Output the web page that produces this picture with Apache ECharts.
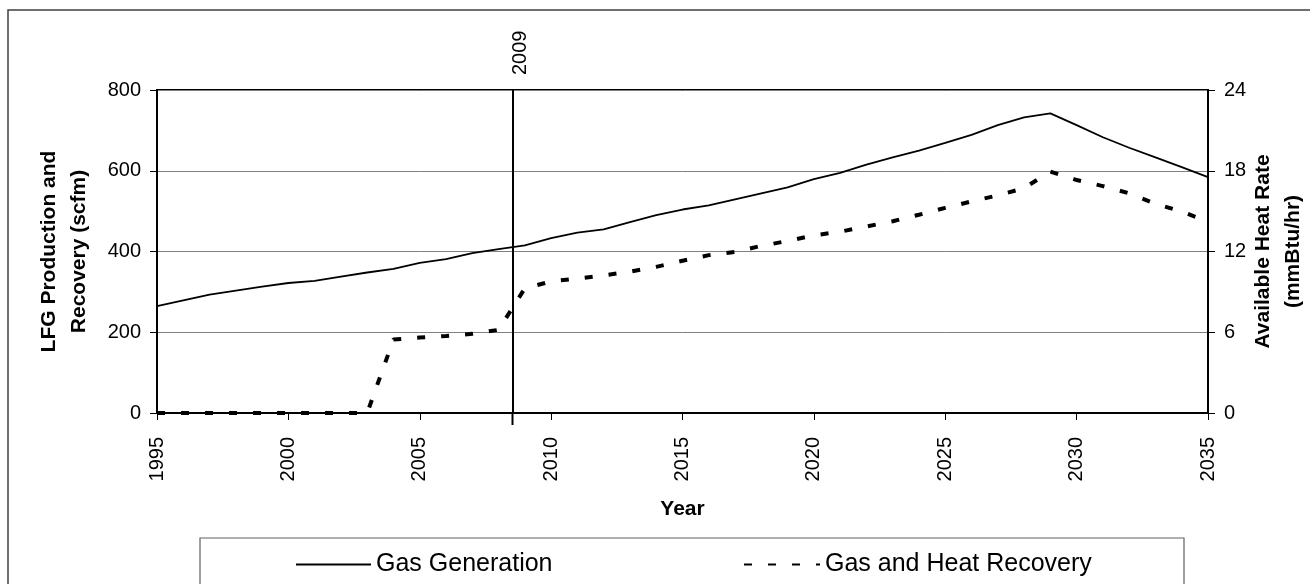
<!DOCTYPE html>
<html>
<head>
<meta charset="utf-8">
<script src="https://cdn.jsdelivr.net/npm/echarts@6/dist/echarts.min.js"></script>
<style>
  html, body { margin: 0; padding: 0; background: #fff; }
  #vis { width: 1310px; height: 584px; }
</style>
</head>
<body>
<div id="vis"></div>
<script>
// years on the x axis
const years = [
  1995, 1996, 1997, 1998, 1999, 2000, 2001, 2002, 2003, 2004,
  2005, 2006, 2007, 2008, 2009, 2010, 2011, 2012, 2013, 2014,
  2015, 2016, 2017, 2018, 2019, 2020, 2021, 2022, 2023, 2024,
  2025, 2026, 2027, 2028, 2029, 2030, 2031, 2032, 2033, 2034, 2035
]

// LFG production (scfm)
const gasGeneration = [
  265, 279, 293, 303, 313, 322, 327, 338, 348, 357,
  372, 381, 396, 406, 415, 433, 447, 455, 473, 490,
  504, 514, 529, 544, 559, 579, 595, 615, 633, 650,
  669, 689, 713, 732, 742, 713, 683, 657, 633, 609, 584
]

// recovered gas (scfm)
const gasRecovery = [
  0, 0, 0, 0, 0, 0, 0, 0, 0, 182,
  187, 191, 196, 206, 309, 326, 333, 341, 350, 362,
  377, 391, 399, 414, 426, 440, 449, 462, 475, 491,
  508, 524, 539, 557, 598, 577, 562, 544, 518, 499, 474
]

const seriesNames = ['Gas Generation', 'Gas and Heat Recovery']
const leftTicks = { min: 0, max: 800, interval: 200 }
const rightTicks = { min: 0, max: 24, interval: 6 }
const xTicks = { min: 1995, max: 2035, interval: 5 }
const markerYear = 2008.53
const markerLabel = '2009'

const FONT = '"Liberation Sans", Arial, sans-serif'

const toPairs = vals => years.map((y, i) => [y, vals[i]])
const plain = v => String(v)

const chart = echarts.init(document.getElementById('vis'))

const legendBase = {
  top: 552,
  padding: 0,
  itemHeight: 27,
  itemStyle: { opacity: 0 },
  textStyle: { fontFamily: FONT, fontSize: 25, color: '#000' }
}

const option = {
  backgroundColor: '#fff',
  animation: false,
  textStyle: { fontFamily: FONT, color: '#000' },
  grid: {
    left: 157,
    right: 102,
    top: 90,
    bottom: 171,
    outerBoundsMode: 'none',
    containLabel: false,
    show: true,
    borderColor: '#000',
    borderWidth: 2
  },
  legend: [
    Object.assign({}, legendBase, { data: [seriesNames[0]], left: 295, itemWidth: 75 }),
    Object.assign({}, legendBase, { data: [seriesNames[1]], left: 743, itemWidth: 76 })
  ],
  xAxis: {
    type: 'value',
    min: xTicks.min,
    max: xTicks.max,
    interval: xTicks.interval,
    name: 'Year',
    nameLocation: 'middle',
    nameGap: 86,
    nameTextStyle: { fontFamily: FONT, fontSize: 21, fontWeight: 'bold', color: '#000' },
    axisLine: { lineStyle: { color: '#000', width: 2 } },
    axisTick: { length: 7, lineStyle: { color: '#000', width: 1 } },
    axisLabel: { rotate: 90, margin: 24, fontSize: 20, color: '#000', fontFamily: FONT, formatter: plain },
    splitLine: { show: false }
  },
  yAxis: [
    {
      type: 'value',
      min: leftTicks.min,
      max: leftTicks.max,
      interval: leftTicks.interval,
      name: 'LFG Production and\nRecovery (scfm)',
      nameLocation: 'middle',
      nameRotate: 90,
      nameGap: 63,
      nameMoveOverlap: false,
      nameTextStyle: { fontFamily: FONT, fontSize: 21, fontWeight: 'bold', color: '#000', lineHeight: 30 },
      axisLine: { show: true, lineStyle: { color: '#000', width: 2 } },
      axisTick: { show: true, length: 7, lineStyle: { color: '#000', width: 1 } },
      axisLabel: { margin: 16, fontSize: 20, color: '#000', fontFamily: FONT, formatter: plain },
      splitLine: { show: true, lineStyle: { color: '#808080', width: 1 } }
    },
    {
      type: 'value',
      position: 'right',
      min: rightTicks.min,
      max: rightTicks.max,
      interval: rightTicks.interval,
      name: 'Available Heat Rate\n(mmBtu/hr)',
      nameLocation: 'middle',
      nameRotate: 90,
      nameGap: 40,
      nameMoveOverlap: false,
      nameTextStyle: { fontFamily: FONT, fontSize: 21, fontWeight: 'bold', color: '#000', lineHeight: 30 },
      axisLine: { show: true, lineStyle: { color: '#000', width: 2 } },
      axisTick: { show: true, length: 7, lineStyle: { color: '#000', width: 1 } },
      axisLabel: { margin: 16, fontSize: 20, color: '#000', fontFamily: FONT, formatter: plain },
      splitLine: { show: false }
    }
  ],
  series: [
    {
      name: seriesNames[0],
      type: 'line',
      data: toPairs(gasGeneration),
      symbol: 'none',
      lineStyle: { color: '#000', width: 1.8 },
      itemStyle: { color: '#000' },
      markLine: {
        silent: true,
        symbol: 'none',
        label: { show: false },
        lineStyle: { color: '#000', width: 2, type: 'solid' },
        data: [[{ coord: [markerYear, leftTicks.min] }, { coord: [markerYear, leftTicks.max] }]]
      }
    },
    {
      name: seriesNames[1],
      type: 'line',
      data: toPairs(gasRecovery),
      symbol: 'none',
      lineStyle: { color: '#000', width: 4, type: [8, 16] },
      itemStyle: { color: '#000' }
    }
  ]
}

chart.setOption(option)

// frame, legend box, marker label and the marker's stub below the axis
const markerX = chart.convertToPixel({ xAxisIndex: 0 }, markerYear)
const topY = chart.convertToPixel({ yAxisIndex: 0 }, leftTicks.max)
const baseY = chart.convertToPixel({ yAxisIndex: 0 }, leftTicks.min)
chart.setOption({
  graphic: [
    {
      type: 'rect',
      z: -1,
      shape: { x: 8, y: 10, width: 1330, height: 620 },
      style: { fill: 'none', stroke: '#404040', lineWidth: 1.5 }
    },
    {
      type: 'rect',
      z: -1,
      shape: { x: 200, y: 538, width: 984, height: 80 },
      style: { fill: 'none', stroke: '#606060', lineWidth: 1.2 }
    },
    {
      type: 'line',
      shape: { x1: markerX, y1: baseY, x2: markerX, y2: baseY + 12 },
      style: { stroke: '#000', lineWidth: 2 }
    },
    {
      type: 'text',
      x: markerX + 8,
      y: topY - 15,
      rotation: Math.PI / 2,
      style: {
        text: markerLabel,
        font: '20px ' + FONT,
        fill: '#000',
        align: 'left',
        verticalAlign: 'middle'
      }
    }
  ]
})
</script>
</body>
</html>
